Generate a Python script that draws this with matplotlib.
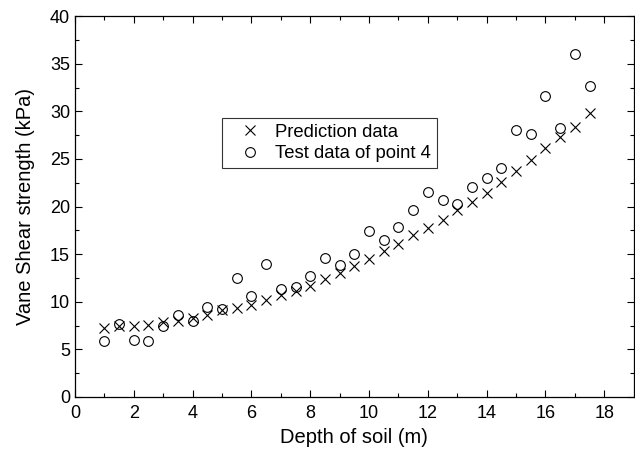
import numpy as np
import matplotlib.pyplot as plt

plt.rcParams['font.family'] = ['Liberation Sans', 'DejaVu Sans']

# Depth of soil (m)
depth = [1, 1.5, 2, 2.5, 3, 3.5, 4, 4.5, 5, 5.5, 6, 6.5, 7, 7.5, 8, 8.5,
         9, 9.5, 10, 10.5, 11, 11.5, 12, 12.5, 13, 13.5, 14, 14.5, 15,
         15.5, 16, 16.5, 17, 17.5]

# Vane shear strength (kPa)
prediction = [7.2, 7.4, 7.4, 7.6, 7.9, 8.0, 8.3, 8.6, 9.1, 9.3, 9.7, 10.2,
              10.7, 11.1, 11.7, 12.4, 13.0, 13.8, 14.5, 15.3, 16.1, 17.0,
              17.7, 18.6, 19.6, 20.5, 21.4, 22.6, 23.7, 24.9, 26.1, 27.3,
              28.4, 29.8]
test_point4 = [5.9, 7.7, 6.0, 5.9, 7.5, 8.6, 8.0, 9.4, 9.2, 12.5, 10.6, 14.0,
               11.3, 11.5, 12.7, 14.6, 13.9, 15.0, 17.4, 16.5, 17.9, 19.6,
               21.5, 20.7, 20.3, 22.1, 23.0, 24.0, 28.0, 27.6, 31.6, 28.3,
               36.0, 32.7]

fig = plt.figure(figsize=(6.35, 4.5), dpi=100)
ax = fig.add_axes([0.118, 0.118, 0.880, 0.846])

ax.plot(depth, prediction, 'x', color='black', markersize=7, markeredgewidth=0.8,
        label='Prediction data')
ax.plot(depth, test_point4, 'o', color='black', markerfacecolor='none',
        markersize=7, markeredgewidth=0.8, label='Test data of point 4')

ax.set_xlim(0, 19)
ax.set_ylim(0, 40)
ax.set_xticks(np.arange(0, 19, 2))
ax.set_xticks(np.arange(0, 19, 1), minor=True)
ax.set_yticks(np.arange(0, 41, 5))
ax.set_yticks(np.arange(0, 40.1, 2.5), minor=True)
ax.tick_params(which='both', direction='in', top=True, right=True,
               labelsize=13, width=0.8)
ax.tick_params(axis='x', which='major', pad=5.5)
ax.tick_params(which='major', length=5)
ax.tick_params(which='minor', length=3)
for s in ax.spines.values():
    s.set_linewidth(0.9)

ax.set_xlabel('Depth of soil (m)', fontsize=14.5, labelpad=5)
ax.set_ylabel('Vane Shear strength (kPa)', fontsize=14.5, labelpad=11)

leg = ax.legend(loc='upper left', bbox_to_anchor=(0.263, 0.732), fontsize=13.3,
                frameon=True, fancybox=False, edgecolor='black',
                borderaxespad=0, handletextpad=0.2, borderpad=0.3,
                labelspacing=0.25, handlelength=2.4)
leg.get_frame().set_linewidth(0.8)

fig.savefig('out.png', dpi=100)
